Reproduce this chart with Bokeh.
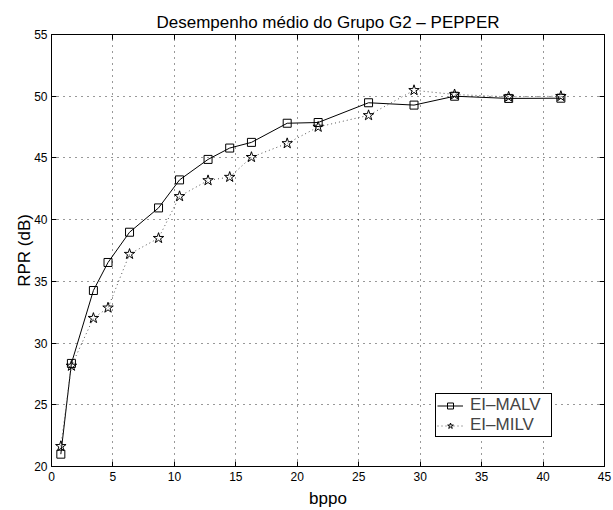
from bokeh.plotting import figure
from bokeh.models import LinearAxis, Range1d, Legend, LegendItem, FixedTicker
from bokeh.embed import file_html
from bokeh.resources import INLINE

# Average rate (bppo) vs RPR (dB) for the two methods
bppo = [0.76, 1.62, 3.41, 4.6, 6.35, 8.71, 10.42, 12.74, 14.5, 16.27,
        19.18, 21.7, 25.8, 29.5, 32.8, 37.2, 41.45]
rpr_malv = [21.0, 28.35, 34.26, 36.53, 38.98, 40.95, 43.22, 44.88, 45.8, 46.26,
            47.81, 47.87, 49.47, 49.28, 50.0, 49.82, 49.84]
rpr_milv = [21.64, 28.15, 32.02, 32.86, 37.21, 38.5, 41.89, 43.18, 43.45, 45.06,
            46.18, 47.51, 48.45, 50.48, 50.14, 49.95, 50.0]

x_ticks = [0, 5, 10, 15, 20, 25, 30, 35, 40, 45]
y_ticks = [20, 25, 30, 35, 40, 45, 50, 55]

FONT = "Liberation Sans"

p = figure(width=613, height=510, output_backend="svg", toolbar_location=None,
           x_range=Range1d(0, 45), y_range=Range1d(20, 55),
           x_axis_label="bppo", y_axis_label="RPR (dB)",
           min_border_left=51, min_border_right=9,
           min_border_top=34, min_border_bottom=39)

p.title.text = "Desempenho médio do Grupo G2 – PEPPER"
p.title.align = "center"
p.title.text_font = FONT
p.title.text_font_size = "17px"
p.title.text_font_style = "normal"
p.title.text_color = "black"
p.title.offset = 0
p.title.standoff = 6

p.outline_line_color = "black"
p.outline_line_width = 1
p.background_fill_color = "white"
p.border_fill_color = "white"

# Extra axes to close the box with inward ticks
top_axis = LinearAxis()
right_axis = LinearAxis()
p.add_layout(top_axis, "above")
p.add_layout(right_axis, "right")

for ax in p.xaxis:
    ax.ticker = FixedTicker(ticks=x_ticks)
for ax in p.yaxis:
    ax.ticker = FixedTicker(ticks=y_ticks)

for ax in list(p.xaxis) + list(p.yaxis):
    ax.major_tick_in = 5
    ax.major_tick_out = 0
    ax.minor_tick_in = 0
    ax.minor_tick_out = 0
    ax.axis_line_color = "black"
    ax.major_tick_line_color = "black"
    ax.major_label_text_font = FONT
    ax.major_label_text_font_size = "12px"
    ax.major_label_text_color = "black"
    ax.axis_label_text_font = FONT
    ax.axis_label_text_font_size = "17px"
    ax.axis_label_text_font_style = "normal"
    ax.axis_label_text_color = "black"

xa = p.xaxis[0]
xa.major_label_standoff = 2
xa.axis_label_standoff = 0
p.yaxis[0].major_label_standoff = 4
p.yaxis[0].axis_label_standoff = -3

# Hide labels on the closing axes
for ax in [top_axis, right_axis]:
    ax.major_label_text_alpha = 0
    ax.major_label_text_font_size = "1px"
    ax.major_label_standoff = 0

p.xgrid.ticker = FixedTicker(ticks=x_ticks)
p.ygrid.ticker = FixedTicker(ticks=y_ticks)
for g in [p.xgrid, p.ygrid]:
    g.grid_line_color = "black"
    g.grid_line_dash = "1 5"
    g.grid_line_width = 1
    g.grid_line_alpha = 0.8

l1 = p.line(bppo, rpr_malv, line_color="black", line_width=1)
s1 = p.scatter(bppo, rpr_malv, marker="square", size=8, fill_color=None,
               line_color="black", line_width=1)
l2 = p.line(bppo, rpr_milv, line_color="#555555", line_width=1, line_dash="1 3")
s2 = p.scatter(bppo, rpr_milv, marker="star", size=11, fill_color=None,
               line_color="black", line_width=1)

legend = Legend(items=[LegendItem(label="EI–MALV", renderers=[l1, s1]),
                       LegendItem(label="EI–MILV", renderers=[l2, s2])],
                location=(384, 29))
legend.border_line_color = "black"
legend.border_line_width = 1
legend.border_line_alpha = 1
legend.background_fill_color = "white"
legend.background_fill_alpha = 1
legend.label_text_font = FONT
legend.label_text_font_size = "17px"
legend.glyph_width = 26
legend.glyph_height = 15
legend.label_height = 15
legend.label_width = 80
legend.spacing = 0
legend.padding = 1
legend.margin = 0
legend.label_standoff = 7
p.add_layout(legend, "center")

open("out.html", "w").write(file_html(p, INLINE))
